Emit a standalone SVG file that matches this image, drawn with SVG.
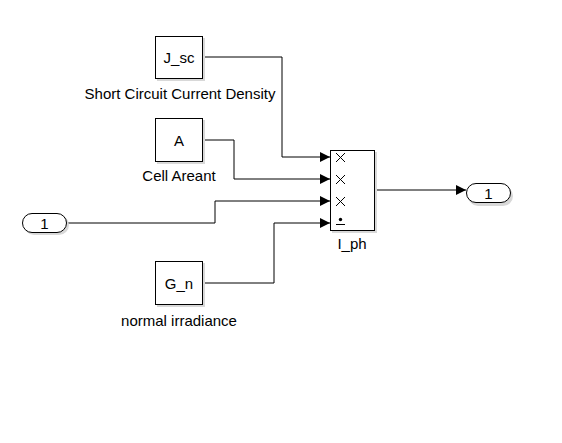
<svg xmlns="http://www.w3.org/2000/svg" width="562" height="443" viewBox="0 0 562 443">
<style>
.blk{fill:#fff;stroke:#000;stroke-width:1}
.sh{fill:#d8d8d8}
.lbl{font-family:"Liberation Sans",Arial,sans-serif;font-size:15px;fill:#000;text-anchor:middle}
.w{fill:none;stroke:#000;stroke-width:1}
.x{stroke:#000;stroke-width:1;fill:none}
</style>
<defs>
<marker id="ar" markerWidth="10" markerHeight="10" refX="10" refY="5" orient="auto" markerUnits="userSpaceOnUse">
<path d="M0,0 L10,5 L0,10 Z" fill="#000"/>
</marker>
</defs>
<rect width="562" height="443" fill="#fff"/>
<g id="connectors">
<path class="w" d="M203,57 H282 V157 H330" marker-end="url(#ar)"/>
<path class="w" d="M203,140 H234 V179 H330" marker-end="url(#ar)"/>
<path class="w" d="M67,223 H215 V201 H330" marker-end="url(#ar)"/>
<path class="w" d="M203,283 H274 V223 H330" marker-end="url(#ar)"/>
<path class="w" d="M375,190 H466" marker-end="url(#ar)"/>
</g>
<g id="jsc">
<rect class="sh" x="157" y="38" width="48" height="43"/>
<rect class="blk" x="155.5" y="36.5" width="47" height="42"/>
<text class="lbl" x="179" y="63">J_sc</text>
<text class="lbl" x="180" y="99">Short Circuit Current Density</text>
</g>
<g id="a">
<rect class="sh" x="157" y="120" width="48" height="44"/>
<rect class="blk" x="155.5" y="118.5" width="47" height="43"/>
<text class="lbl" x="179" y="146">A</text>
<text class="lbl" x="179" y="181">Cell Areant</text>
</g>
<g id="gn">
<rect class="sh" x="157" y="263" width="48" height="44"/>
<rect class="blk" x="155.5" y="261.5" width="47" height="43"/>
<text class="lbl" x="179" y="289">G_n</text>
<text class="lbl" x="179" y="326">normal irradiance</text>
</g>
<g id="in1">
<rect class="sh" x="24" y="215" width="45" height="20" rx="10"/>
<rect class="blk" x="22.5" y="213.5" width="44" height="19" rx="9.5"/>
<text class="lbl" x="44.5" y="228.5">1</text>
</g>
<g id="out1">
<rect class="sh" x="468" y="186" width="45" height="20" rx="10"/>
<rect class="blk" x="466.5" y="183.5" width="44" height="19" rx="9.5"/>
<text class="lbl" x="488.5" y="198.5">1</text>
</g>
<g id="iph">
<rect class="sh" x="332" y="152" width="45" height="81"/>
<rect class="blk" x="330.5" y="150.5" width="44" height="80"/>
<path class="x" d="M336,153 L345,162 M345,153 L336,162"/>
<path class="x" d="M336,175 L345,184 M345,175 L336,184"/>
<path class="x" d="M336,197 L345,206 M345,197 L336,206"/>
<circle cx="340.5" cy="219.5" r="1.7" fill="#000"/>
<path class="x" d="M336,224.5 H345"/>
<text class="lbl" x="352" y="249">I_ph</text>
</g>
</svg>
